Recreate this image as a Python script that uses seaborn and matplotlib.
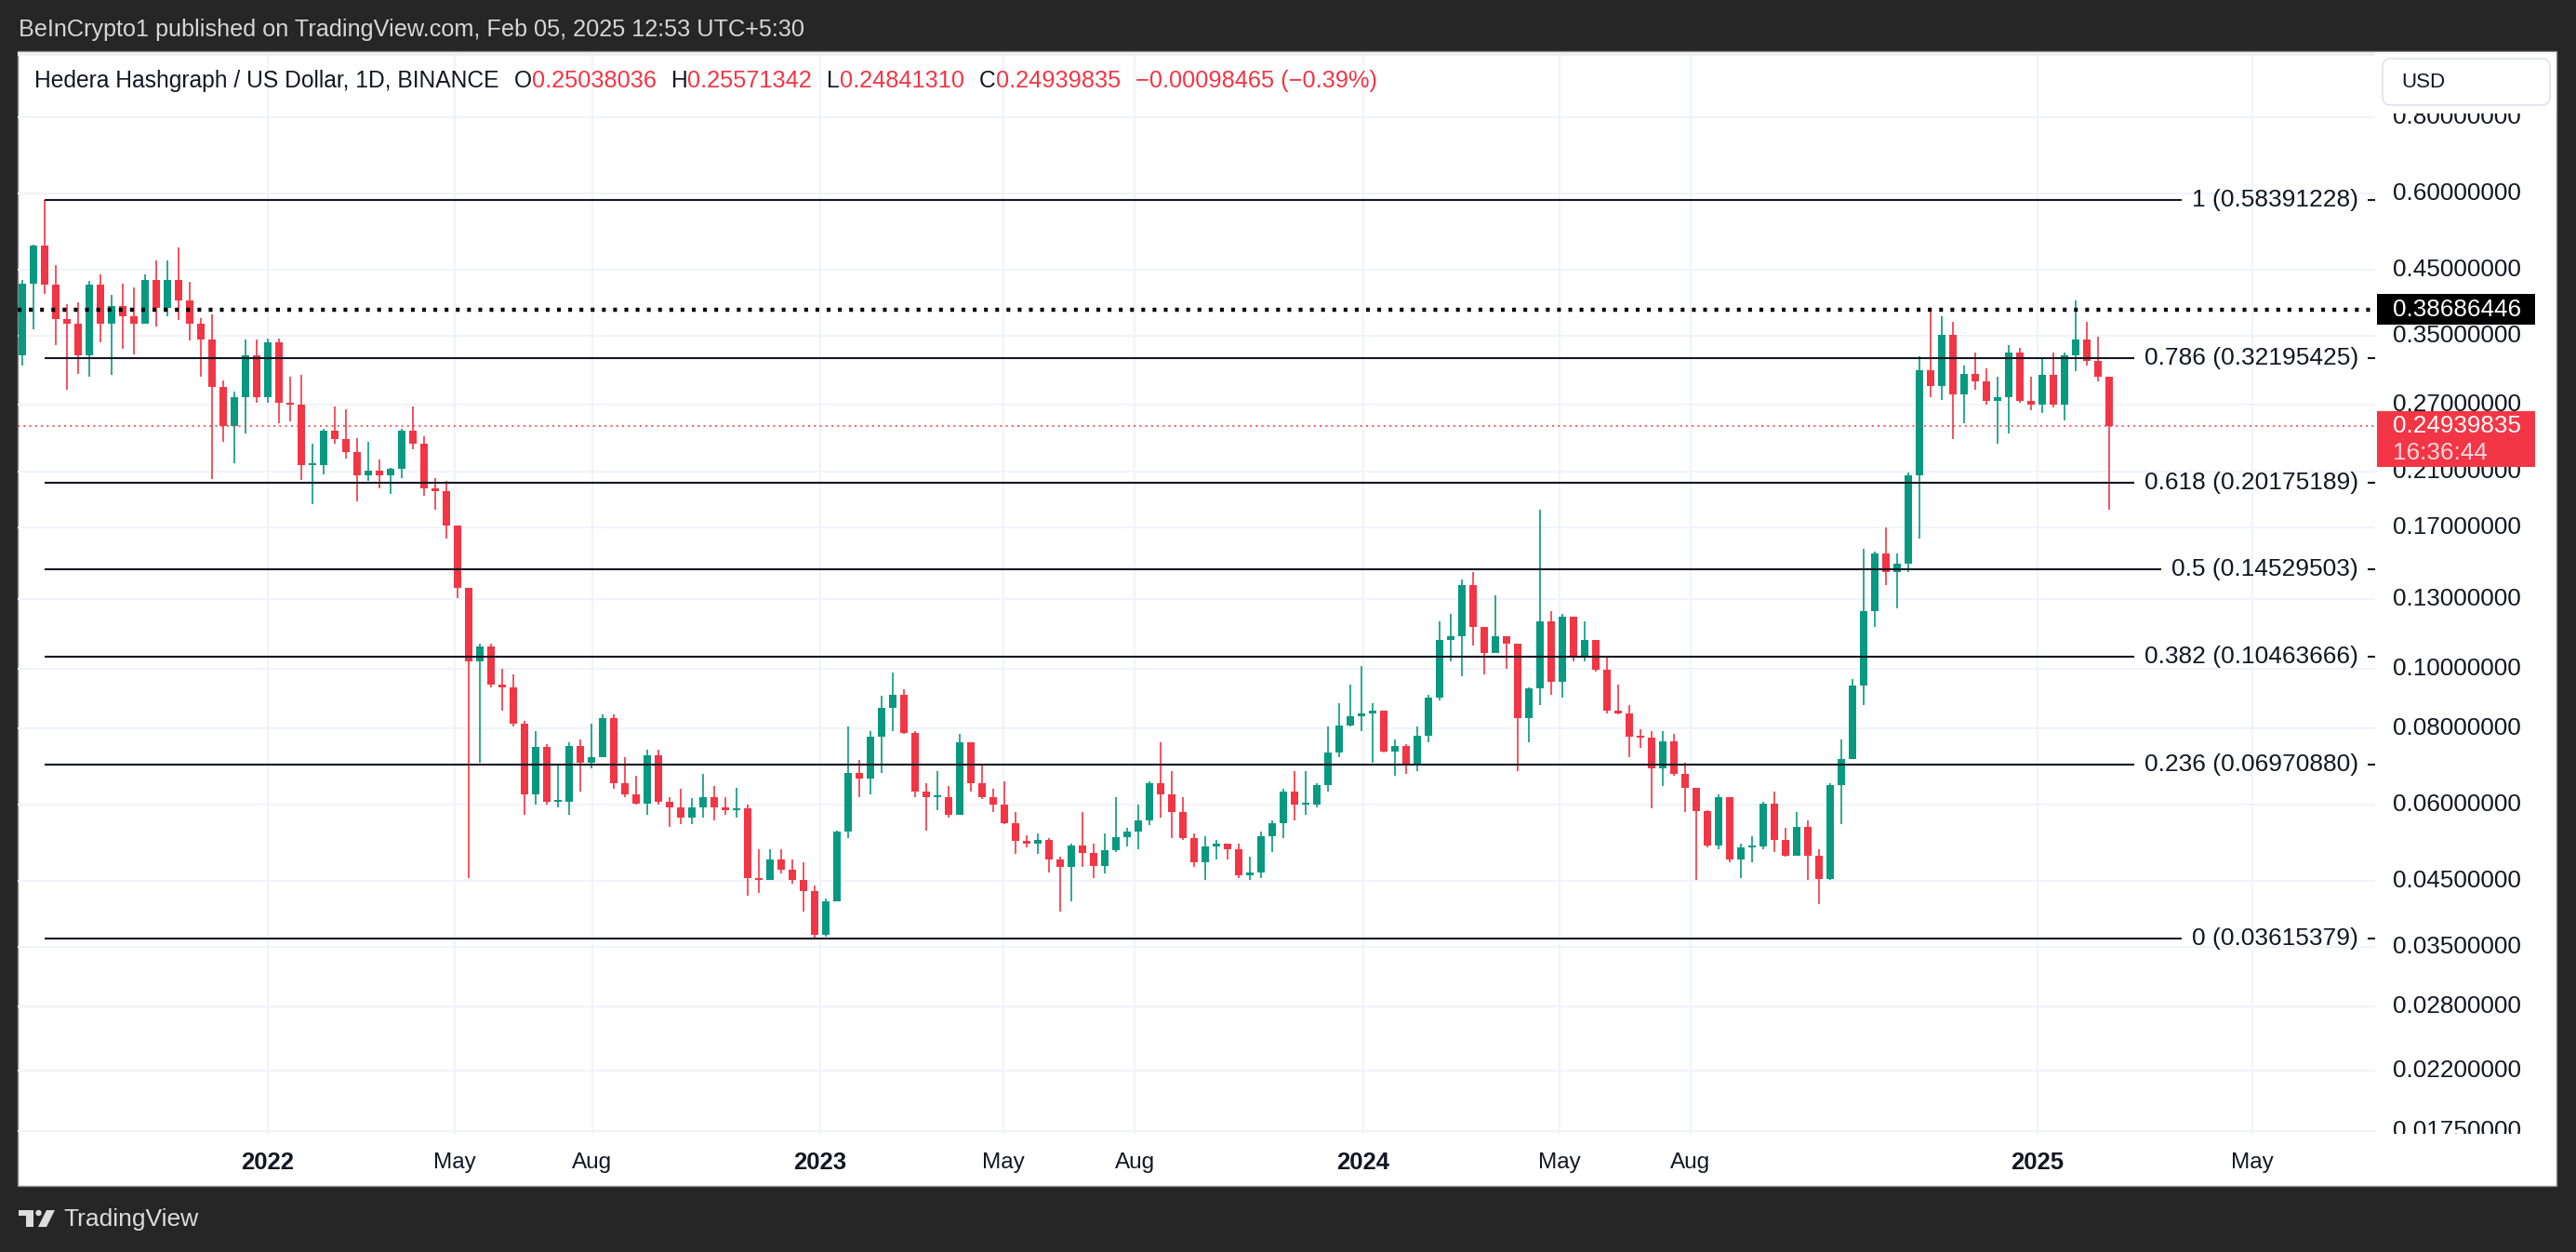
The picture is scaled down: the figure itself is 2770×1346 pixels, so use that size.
import numpy as np
import matplotlib
matplotlib.use("Agg")
import matplotlib.pyplot as plt
from matplotlib.patches import Rectangle, FancyBboxPatch, Circle, Polygon
from matplotlib.transforms import IdentityTransform
import seaborn as sns

# HBAR/USD price path, one candle per ~4 sessions
first_open = 0.3256
close = [
    0.4272, 0.4922, 0.4247, 0.3737, 0.3664, 0.3256, 0.4247, 0.3664, 0.3925, 0.3774,
    0.3664, 0.4331, 0.3887, 0.4331, 0.4003, 0.3664, 0.3454, 0.2893, 0.2496, 0.2782,
    0.3256, 0.2782, 0.3420, 0.2727, 0.2701, 0.2154, 0.2154, 0.2448, 0.2376, 0.2262,
    0.2070, 0.2112, 0.2070, 0.2120, 0.2448, 0.2330,
    0.1971, 0.1952, 0.1717, 0.1356, 0.1029, 0.1086, 0.0942, 0.0933, 0.08129, 0.06232,
    0.07440, 0.06051, 0.06051, 0.07470, 0.07014, 0.07153, 0.08290, 0.06483, 0.06232, 0.06015,
    0.07224, 0.06051, 0.05933, 0.05704, 0.05933, 0.06171, 0.05933, 0.05875, 0.05898, 0.04549,
    0.04504, 0.04873, 0.04685, 0.04504, 0.04330, 0.03663, 0.04163,
    0.05408, 0.06743, 0.06611, 0.07738, 0.08623, 0.09058, 0.07861, 0.06294, 0.06171, 0.06171,
    0.05760, 0.07588, 0.06483, 0.06171, 0.05991, 0.05593, 0.05220, 0.05169, 0.05241, 0.04873,
    0.04731, 0.05138, 0.05000, 0.04750, 0.05039, 0.05292, 0.05408, 0.05648, 0.06483, 0.06232,
    0.05817, 0.05272, 0.04826, 0.05119, 0.05169, 0.05069, 0.04594, 0.04639,
    0.05324, 0.05593, 0.06294, 0.05991, 0.05991, 0.06457, 0.07295, 0.08080, 0.08372, 0.08455,
    0.08539, 0.07324, 0.07470, 0.06986, 0.07769, 0.08969, 0.1114, 0.1129, 0.1369, 0.1170,
    0.1060, 0.1129, 0.1099, 0.08290, 0.09274, 0.1193, 0.09515, 0.1217, 0.1050, 0.1114,
    0.09956, 0.08539, 0.08455, 0.07738, 0.07708, 0.06877, 0.07617,
    0.06716, 0.06382, 0.05852, 0.05138, 0.06171, 0.04873, 0.05099, 0.05119, 0.06015, 0.05241,
    0.04941, 0.05516, 0.04941, 0.04531, 0.06457, 0.07125, 0.09385, 0.1241, 0.1541, 0.1439,
    0.1487, 0.2070, 0.3081, 0.2905, 0.3523, 0.2809, 0.3039, 0.2951, 0.2738, 0.2782,
    0.3288, 0.2738, 0.2701, 0.3021, 0.2701, 0.3256, 0.3454, 0.3192, 0.3009, 0.24939835,
]
high = [
    0.4331, 0.4942, 0.5839, 0.4568, 0.3948, 0.3979, 0.4306, 0.4417, 0.4083, 0.4263,
    0.4205, 0.4417, 0.4659, 0.4659, 0.4894, 0.4289, 0.3752, 0.3796, 0.2962, 0.2837,
    0.3454, 0.3454, 0.3468, 0.3468, 0.3009, 0.3021, 0.2330, 0.2472, 0.2684, 0.2658,
    0.2386, 0.2353, 0.2196, 0.2133, 0.2472, 0.2684,
    0.2400, 0.2050, 0.2030, 0.1701, 0.1356, 0.1099, 0.1099, 0.09995, 0.0980, 0.08209,
    0.07892, 0.07514, 0.06945, 0.07588, 0.07663, 0.08129, 0.08405, 0.08405, 0.07153, 0.06677,
    0.07367, 0.07367, 0.06171, 0.06356, 0.06135, 0.06716, 0.06419, 0.06171, 0.06382, 0.05991,
    0.05069, 0.05069, 0.05069, 0.04873, 0.04826, 0.04417, 0.04204,
    0.05430, 0.08049, 0.07083, 0.07892, 0.09023, 0.09839, 0.09238, 0.07892, 0.06483, 0.06809,
    0.06419, 0.07815, 0.07295, 0.06973, 0.06356, 0.06547, 0.05817, 0.05345, 0.05377, 0.05272,
    0.04921, 0.05169, 0.05817, 0.05169, 0.05377, 0.06171, 0.05484, 0.05991, 0.06547, 0.07588,
    0.06809, 0.06171, 0.05377, 0.05324, 0.05241, 0.05138, 0.05169, 0.04921,
    0.05408, 0.05648, 0.06356, 0.06809, 0.06809, 0.06483, 0.08049, 0.08794, 0.0942, 0.1009,
    0.08794, 0.08539, 0.07663, 0.07514, 0.08049, 0.09058, 0.1193, 0.1229, 0.1397, 0.1439,
    0.1136, 0.1317, 0.1114, 0.1081, 0.0933, 0.1822, 0.1241, 0.1229, 0.1159, 0.1193,
    0.1114, 0.1050, 0.0942, 0.08708, 0.07970, 0.07892, 0.07892,
    0.07815, 0.07014, 0.06356, 0.05875, 0.06232, 0.06110, 0.05169, 0.05324, 0.06051, 0.06294,
    0.05484, 0.05817, 0.05648, 0.05069, 0.06483, 0.07663, 0.09609, 0.1572, 0.1556, 0.1701,
    0.1541, 0.2091, 0.3243, 0.38686, 0.3774, 0.3700, 0.3130, 0.3288, 0.3100, 0.3009,
    0.3387, 0.3353, 0.3009, 0.3224, 0.3288, 0.3288, 0.4003, 0.3700, 0.3488, 0.3009,
]
low = [
    0.3130, 0.3593, 0.4107, 0.3387, 0.2865, 0.3039, 0.3009, 0.3420, 0.3027, 0.3333,
    0.3268, 0.3664, 0.3628, 0.3774, 0.3715, 0.3441, 0.3009, 0.2046, 0.2353, 0.2166,
    0.2424, 0.2727, 0.2727, 0.2521, 0.2536, 0.2038, 0.1858, 0.2079, 0.2330, 0.2209,
    0.1876, 0.2030, 0.1971, 0.1933, 0.2050, 0.2285,
    0.1921, 0.1822, 0.1635, 0.1304, 0.04549, 0.07014, 0.0933, 0.08539, 0.08049, 0.05760,
    0.05991, 0.05991, 0.05933, 0.05760, 0.06294, 0.06877, 0.07224, 0.06356, 0.06171, 0.05991,
    0.05760, 0.05991, 0.05516, 0.05559, 0.05559, 0.05704, 0.05648, 0.05760, 0.05704, 0.04246,
    0.04288, 0.04549, 0.04621, 0.04442, 0.04002, 0.03615, 0.03648,
    0.04204, 0.05272, 0.06171, 0.06232, 0.06743, 0.07892, 0.07815, 0.06171, 0.05430, 0.05875,
    0.05704, 0.05760, 0.06294, 0.06110, 0.05817, 0.05559, 0.04970, 0.05099, 0.04970, 0.04639,
    0.04002, 0.04163, 0.04731, 0.04549, 0.04621, 0.05019, 0.05119, 0.05069, 0.05538, 0.05704,
    0.05272, 0.05241, 0.04731, 0.04504, 0.04873, 0.04873, 0.04549, 0.04504,
    0.04549, 0.05019, 0.05272, 0.05648, 0.05760, 0.05933, 0.06294, 0.07153, 0.08049, 0.07892,
    0.07014, 0.07295, 0.06677, 0.06716, 0.06809, 0.07588, 0.08881, 0.1029, 0.09704, 0.1092,
    0.0980, 0.1092, 0.09995, 0.06809, 0.07588, 0.08708, 0.09058, 0.08969, 0.1029, 0.1029,
    0.09897, 0.08455, 0.08405, 0.07153, 0.07411, 0.05898, 0.06419,
    0.06677, 0.05817, 0.04504, 0.05099, 0.05069, 0.04826, 0.04549, 0.04826, 0.05069, 0.05019,
    0.04921, 0.05019, 0.04504, 0.04122, 0.04504, 0.05559, 0.07153, 0.08708, 0.1170, 0.1369,
    0.1253, 0.1439, 0.1635, 0.2782, 0.2754, 0.2376, 0.2521, 0.2865, 0.2701, 0.2330,
    0.2424, 0.2727, 0.2648, 0.2622, 0.2674, 0.2546, 0.3069, 0.3130, 0.2951, 0.1822,
]

fib_ratio = ["1", "0.786", "0.618", "0.5", "0.382", "0.236", "0"]
fib_price = [0.58391228, 0.32195425, 0.20175189, 0.14529503, 0.10463666, 0.06970880, 0.03615379]
fib_start = 2  # candle holding the all-time high

resistance = 0.38686446
last_price = 0.24939835
countdown = "16:36:44"

price_ticks = [0.8, 0.6, 0.45, 0.35, 0.27, 0.21, 0.17, 0.13, 0.10, 0.08,
               0.06, 0.045, 0.035, 0.028, 0.022, 0.0175]
time_ticks = [21.96, 38.75, 51.08, 71.5, 87.92, 99.67, 120.13, 137.75, 149.47, 180.56, 199.83]
time_labels = ["2022", "May", "Aug", "2023", "May", "Aug", "2024", "May", "Aug", "2025", "May"]

symbol = "Hedera Hashgraph / US Dollar, 1D, BINANCE"
ohlc = [("O", "0.25038036"), ("H", "0.25571342"), ("L", "0.24841310"), ("C", "0.24939835")]
change = "\u22120.00098465 (\u22120.39%)"
publisher = "BeInCrypto1 published on TradingView.com, Feb 05, 2025 12:53 UTC+5:30"

UP, DOWN = "#089981", "#F23645"
INK = "#131722"
GRID = "#f0f3fa"
W, H = 2770, 1346
PLOT_TOP, PLOT_BOT = 60, 1219

sns.set_theme(style="white")
plt.rcParams["font.family"] = ["Liberation Sans", "DejaVu Sans"]
plt.rcParams["lines.scale_dashes"] = False

fig = plt.figure(figsize=(W / 100, H / 100), dpi=100, facecolor="#262626")
PIX = IdentityTransform()


def top(y):
    # pixel row counted from the top -> display y
    return H - y


# white chart panel
fig.add_artist(Rectangle((19, top(1275)), 2730, 1275 - 55, transform=PIX,
                         facecolor="white", edgecolor="#8a8a8a", lw=1, zorder=-1))
fig.add_artist(Rectangle((19, top(60)), 2730, 4, transform=PIX,
                         facecolor="#eeeeee", lw=0, zorder=-0.5))

plot_h = PLOT_BOT - PLOT_TOP
ax = fig.add_axes([19 / W, 1 - PLOT_BOT / H, (2554 - 19) / W, plot_h / H])
pax = fig.add_axes([2554 / W, 1 - PLOT_BOT / H, (2749 - 2554) / W, plot_h / H])
for a in (ax, pax):
    a.set_yscale("log")
    a.set_ylim(0.017326, 1.00654)
    a.set_axis_off()
ax.set_xlim(-5 / 12, 2530 / 12)
pax.set_xlim(0, 1)

# grid
for p in price_ticks:
    ax.axhline(p, color=GRID, lw=1.5, zorder=0)
for t in time_ticks:
    ax.axvline(t, color=GRID, lw=1.5, zorder=0)

# candles
c = np.array(close)
o = np.array([first_open] + close[:-1])
hi = np.maximum(np.array(high), np.maximum(o, c))
lo = np.minimum(np.array(low), np.minimum(o, c))
x = np.arange(len(c))
cols = np.where(c >= o, UP, DOWN)
ax.vlines(x, lo, hi, colors=cols, lw=1.2, zorder=2)
bot = np.minimum(o, c)
tp = np.maximum(np.maximum(o, c), bot * 1.006)
ax.bar(x, tp - bot, bottom=bot, width=0.62, color=cols, lw=0, zorder=2)

r = fig.canvas.get_renderer()


def ypix(p):
    return ax.transData.transform((0, p))[1]


def xdata(px):
    return ax.transData.inverted().transform((px, 0))[0]


# fibonacci retracement
for ratio, p in zip(fib_ratio, fib_price):
    t = fig.text(2536, ypix(p), f"{ratio} ({p:.8f})", transform=PIX, ha="right",
                 va="center", fontsize=19, color=INK)
    x0 = t.get_window_extent(r).x0
    ax.hlines(p, fib_start, xdata(x0 - 11), color=INK, lw=1.5, zorder=3)
    ax.hlines(p, xdata(2546), xdata(2554), color=INK, lw=1.5, zorder=3)

ax.axhline(resistance, color="black", lw=3.2, linestyle=(0, (2.9, 5.8)), zorder=3)
ax.axhline(last_price, color=DOWN, lw=1.1, linestyle=(0, (1.5, 3.0)), zorder=3)

# price scale
for p in price_ticks:
    pax.text(0.0974, p, f"{p:.8f}", transform=pax.get_yaxis_transform(), ha="left",
             va="center", fontsize=18.8, color=INK, clip_on=True)

fig.add_artist(Rectangle((2554, top(122)), 195, 122 - 56, transform=PIX,
                         facecolor="white", lw=0, zorder=4))
fig.add_artist(FancyBboxPatch((2562, top(113)), 180, 50, boxstyle="round,pad=0,rounding_size=9",
                              transform=PIX, facecolor="white", edgecolor="#e0e3eb",
                              lw=1.2, zorder=5))
fig.text(2582, top(88), "USD", transform=PIX, ha="left", va="center", fontsize=16,
         color=INK, zorder=6)

yr = ypix(resistance)
fig.add_artist(Rectangle((2556, yr - 16.5), 170, 33, transform=PIX, facecolor="black",
                         lw=0, zorder=4))
fig.text(2573, yr, f"{resistance:.8f}", transform=PIX, ha="left", va="center",
         fontsize=18.8, color="white", zorder=6)

yl = ypix(last_price)
fig.add_artist(Rectangle((2556, yl - 44), 170, 60, transform=PIX, facecolor=DOWN,
                         lw=0, zorder=4))
fig.text(2573, yl, f"{last_price:.8f}", transform=PIX, ha="left", va="center",
         fontsize=18.8, color="white", zorder=6)
fig.text(2573, yl - 29, countdown, transform=PIX, ha="left", va="center",
         fontsize=18.8, color="#fdd9dc", zorder=6)

# time scale
for t, s in zip(time_ticks, time_labels):
    year = s.isdigit()
    ax.text(t, -(1250 - PLOT_BOT) / plot_h, s, transform=ax.get_xaxis_transform(),
            ha="center", va="center", fontsize=18.5 if year else 17.5,
            fontweight="bold" if year else "normal", color=INK, clip_on=False)

# header and legend
fig.text(20, top(32), publisher, transform=PIX, ha="left", va="center", fontsize=18.2,
         color="#d6d6d6")

pieces = [(symbol, INK, 17.7, 16)]
for k, v in ohlc:
    pieces += [(k, INK, 17.7, 0), (v, DOWN, 18.3, 16)]
pieces.append((change, DOWN, 18.3, 0))
xp = 37
for s, col, fs, gap in pieces:
    t = fig.text(xp, top(87), s, transform=PIX, ha="left", va="center", fontsize=fs,
                 color=col, zorder=6)
    xp = t.get_window_extent(r).x1 + gap

# TradingView mark
LOGO = "#dcdcdc"
fig.add_artist(Rectangle((20, top(1307)), 16, 6, transform=PIX, facecolor=LOGO, lw=0))
fig.add_artist(Rectangle((28, top(1319)), 8, 18, transform=PIX, facecolor=LOGO, lw=0))
fig.add_artist(Circle((41.5, top(1304)), 3.2, transform=PIX, facecolor=LOGO, lw=0))
fig.add_artist(Polygon([(50, top(1301)), (59, top(1301)), (50, top(1319)), (41, top(1319))],
                       closed=True, transform=PIX, facecolor=LOGO, lw=0))
fig.text(68, top(1311), "TradingView", transform=PIX, ha="left", va="center", fontsize=19,
         color=LOGO)

fig.savefig("out.png", dpi=100, facecolor=fig.get_facecolor())
